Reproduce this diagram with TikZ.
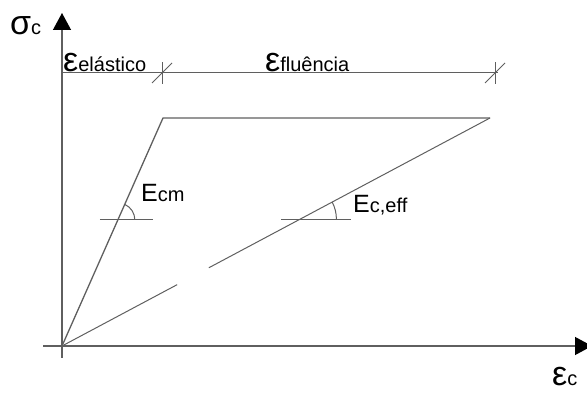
\documentclass[tikz,border=0pt]{standalone}
\usepackage{fontspec}
\setmainfont{Liberation Sans}
\usetikzlibrary{arrows.meta,calc}
\definecolor{linegray}{RGB}{95,95,95}
\newcommand{\symlbl}[2]{{\fontsize{34}{34}\selectfont #1}{\fontsize{20}{20}\selectfont #2}}
\newcommand{\modlbl}[2]{{\fontsize{25}{25}\selectfont #1}{\fontsize{20}{20}\selectfont #2}}
\tikzset{
  axis line/.style={draw=linegray, line width=1.3pt,
    -{Triangle[length=17pt,width=18pt,color=black]}},
  plot line/.style={draw=linegray, line width=1.3pt},
  thin line/.style={draw=linegray, line width=1pt},
  curve label/.style={anchor=base west, inner sep=0pt, text=black}
}
\begin{document}
\begin{tikzpicture}[x=1pt,y=1pt]
    \useasboundingbox (0,0) rectangle (587,394);
    % axes
    \coordinate (O) at (62,48);
    \coordinate (ybot) at (62,36);
    \coordinate (ytip) at (62,381);
    \coordinate (xbeg) at (43,48);
    \coordinate (xtip) at (592,48);
    \draw[axis line] (ybot) -- (ytip);
    \draw[axis line] (xbeg) -- (xtip);
    % stress-strain path
    \coordinate (P) at (163,276);
    \coordinate (Q) at (490,276);
    \draw[plot line] (O) -- (P) -- (Q);
    \coordinate (g1) at ($(O)!0.269!(Q)$);
    \coordinate (g2) at ($(O)!0.343!(Q)$);
    \draw[thin line] (O) -- (g1);
    \draw[thin line] (g2) -- (Q);
    % strain dimension line
    \coordinate (d0) at (62,321);
    \coordinate (d1) at (162,321);
    \coordinate (d2) at (495,321);
    \coordinate (d3) at (498,321);
    \draw[thin line] (d0) -- (d3);
    \foreach \t in {d1,d2}{
      \draw[thin line] ($(\t)+(0,-11)$) -- ($(\t)+(0,11)$);
      \draw[thin line] ($(\t)+(-10,-10)$) -- ($(\t)+(10,10)$);
    }
    % slope markers
    \coordinate (a1) at ($(O)!0.553!(P)$);
    \draw[thin line] ($(a1)+(-18,0)$) -- ($(a1)+(35,0)$);
    \draw[thin line] ($(a1)+(17,0)$) arc[start angle=0, end angle=66, radius=17];
    \coordinate (a2) at ($(O)!0.557!(Q)$);
    \draw[thin line] ($(a2)+(-19,0)$) -- ($(a2)+(51,0)$);
    \draw[thin line] ($(a2)+(36,0)$) arc[start angle=0, end angle=28, radius=36];
    % labels
    \node[curve label] (sigma) at (10,359) {\symlbl{σ}{c}};
    \node[curve label] (epsel) at (63,322) {\symlbl{ε}{elástico}};
    \node[curve label] (epsfl) at (265,322) {\symlbl{ε}{fluência}};
    \node[curve label] (ecm) at (141,192) {\modlbl{E}{cm}};
    \node[curve label] (eceff) at (353,181) {\modlbl{E}{c,eff}};
    \node[curve label] (epsc) at (552,9) {\symlbl{ε}{c}};
\end{tikzpicture}
\end{document}
